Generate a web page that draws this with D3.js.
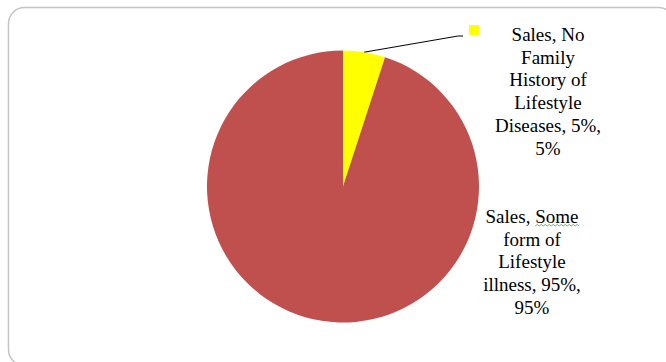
<!DOCTYPE html>
<html>
<head>
<meta charset="utf-8">
<script src="https://cdn.jsdelivr.net/npm/d3@7"></script>
<style>
  body { margin: 0; background: #fff; }
  svg { display: block; }
</style>
</head>
<body>
<div id="chart"></div>
<script>
// data
const categories = ['Sales, No Family History of Lifestyle Diseases', 'Sales, Some form of Lifestyle illness'];
const values = [5, 95];
const colours = ['#FFFF00', '#C0504D'];
// label lines as they wrap in the picture
const labelLines = [
    ['Sales, No', 'Family', 'History of', 'Lifestyle', 'Diseases, 5%,', '5%'],
    ['Sales, Some', 'form of', 'Lifestyle', 'illness, 95%,', '95%']
];

const width = 666;
const height = 362;
const cx = 343, cy = 186.5, radius = 136;

const svg = d3.select('#chart')
    .append('svg')
        .attr('width', width)
        .attr('height', height);

// chart frame
svg.append('rect')
    .attr('x', 8.5)
    .attr('y', 7.5)
    .attr('width', 666)
    .attr('height', 358)
    .attr('rx', 16)
    .attr('fill', '#fff')
    .attr('stroke', '#c4c4c4')
    .attr('stroke-width', 1.5);

const pie = d3.pie().sort(null).value(d => d);
const arcs = pie(values);
const arc = d3.arc().innerRadius(0).outerRadius(radius);

const g = svg.append('g')
    .attr('transform', `translate(${cx},${cy})`);

g.selectAll('path')
    .data(arcs)
    .join('path')
        .attr('d', arc)
        .attr('fill', (d, i) => colours[i]);

// leader line for the small slice
const a0 = arcs[0];
const mid = (a0.startAngle + a0.endAngle) / 2;
const p0 = [cx + radius * Math.sin(mid), cy - radius * Math.cos(mid)];
svg.append('polyline')
    .attr('points', [p0, [458, 36], [463, 36]].map(p => p.join(',')).join(' '))
    .attr('fill', 'none')
    .attr('stroke', '#000')
    .attr('stroke-width', 1);

// legend key square
svg.append('rect')
    .attr('x', 469)
    .attr('y', 25)
    .attr('width', 10)
    .attr('height', 10)
    .attr('fill', colours[0]);

// labels
const labelPos = [{x: 548, y: 41}, {x: 532, y: 223}];
const lineH = 22.7;
labelLines.forEach((lines, i) => {
    const t = svg.append('text')
        .attr('x', labelPos[i].x)
        .attr('y', labelPos[i].y)
        .attr('text-anchor', 'middle')
        .attr('font-family', '"Liberation Serif", "Times New Roman", serif')
        .attr('font-size', 19)
        .attr('fill', '#000');
    t.selectAll('tspan')
        .data(lines)
        .join('tspan')
            .attr('x', labelPos[i].x)
            .attr('y', (d, j) => labelPos[i].y + j * lineH)
            .text(d => d);
});

// green spell-check squiggle under "Some"
const first = svg.selectAll('text').filter((d, i) => i === 1).select('tspan').node();
const full = first.getComputedTextLength();
const pre = first.getSubStringLength(0, 7);
const wx0 = 532 - full / 2 + pre;
const wx1 = 532 + full / 2;
const sq = d3.path();
sq.moveTo(wx0, 226);
for (let x = wx0, k = 0; x < wx1; x += 2, k++) {
    sq.lineTo(x + 2, k % 2 ? 226 : 224.5);
}
svg.append('path')
    .attr('d', sq.toString())
    .attr('fill', 'none')
    .attr('stroke', '#3cb043')
    .attr('stroke-width', 0.8);
</script>
</body>
</html>
